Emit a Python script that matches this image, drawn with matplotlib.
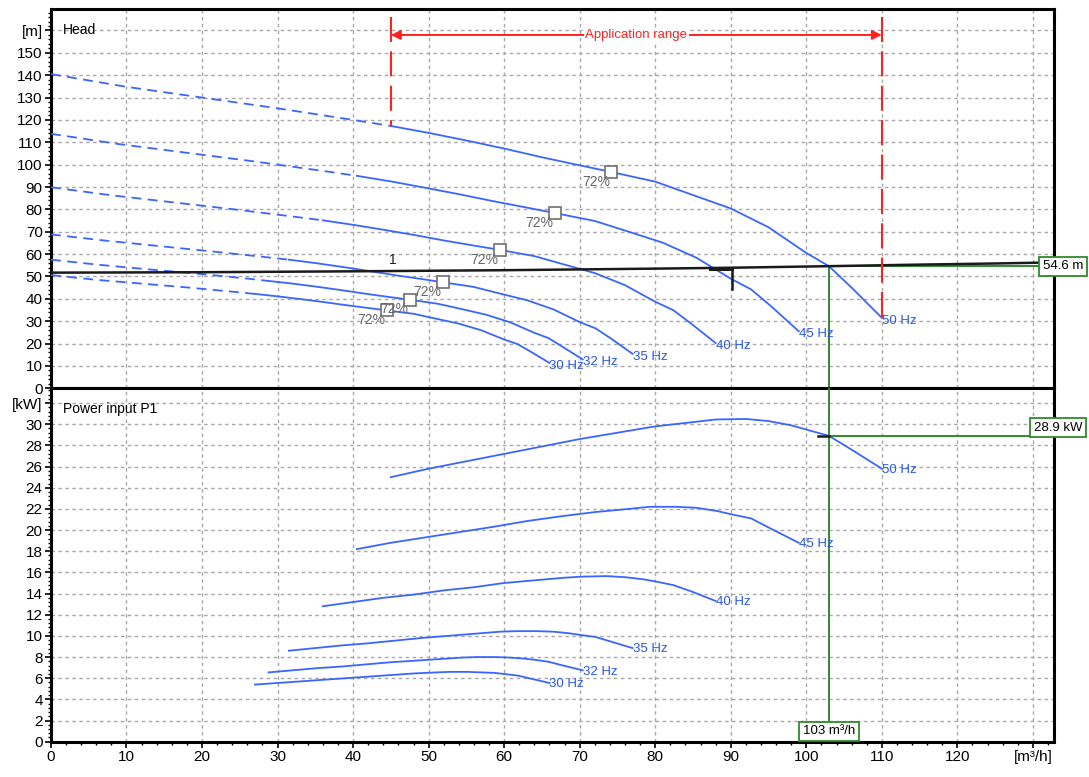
import matplotlib
matplotlib.use("Agg")
import matplotlib.pyplot as plt
from matplotlib.ticker import MultipleLocator, FixedLocator
import matplotlib.transforms as mtransforms

plt.rcParams['font.family'] = ['Liberation Sans', 'DejaVu Sans']

# ---------------- data ----------------
freq_labels = ["50 Hz", "45 Hz", "40 Hz", "35 Hz", "32 Hz", "30 Hz"]
app_start_q = [45.0, 40.5, 36.0, 31.5, 28.8, 27.0]

head_q_50 = [0, 10, 20, 30, 40, 45, 50, 55, 60, 65, 70, 74.2, 80, 85, 90, 95, 100, 103, 106, 110]
head_h_50 = [140.5, 134.8, 130.0, 125.2, 120.0, 117.3, 114.2, 110.8, 107.2, 103.3, 99.7, 96.7, 92.4, 86.4, 80.4, 72.0, 60.5, 54.6, 45.0, 31.5]
head_q_45 = [0, 9, 18, 27, 36, 40.5, 45, 49.5, 54, 58.5, 63, 66.8, 72, 76.5, 81, 85.5, 90, 92.7, 95.4, 99]
head_h_45 = [113.8, 109.2, 105.3, 101.4, 97.2, 95.0, 92.5, 89.7, 86.8, 83.7, 80.8, 78.3, 74.8, 70.0, 65.1, 58.3, 49.0, 44.2, 36.5, 25.5]
head_q_40 = [0, 8, 16, 24, 32, 36, 40, 44, 48, 52, 56, 59.4, 64, 68, 72, 76, 80, 82.4, 84.8, 88]
head_h_40 = [89.9, 86.3, 83.2, 80.1, 76.8, 75.1, 73.1, 70.9, 68.6, 66.1, 63.8, 61.9, 59.1, 55.3, 51.5, 46.1, 38.7, 34.9, 28.8, 20.2]
head_q_35 = [0, 7, 14, 21, 28, 31.5, 35, 38.5, 42, 45.5, 49, 51.9, 56, 59.5, 63, 66.5, 70, 72.1, 74.2, 77]
head_h_35 = [68.8, 66.1, 63.7, 61.3, 58.8, 57.5, 56.0, 54.3, 52.5, 50.6, 48.9, 47.4, 45.3, 42.3, 39.4, 35.3, 29.6, 26.8, 22.1, 15.4]
head_q_32 = [0, 6.4, 12.8, 19.2, 25.6, 28.8, 32, 35.2, 38.4, 41.6, 44.8, 47.5, 51.2, 54.4, 57.6, 60.8, 64, 65.9, 67.8, 70.4]
head_h_32 = [57.5, 55.2, 53.2, 51.3, 49.2, 48.0, 46.8, 45.4, 43.9, 42.3, 40.8, 39.6, 37.8, 35.4, 32.9, 29.5, 24.8, 22.4, 18.4, 12.9]
head_q_30 = [0, 6, 12, 18, 24, 27, 30, 33, 36, 39, 42, 44.5, 48, 51, 54, 57, 60, 61.8, 63.6, 66]
head_h_30 = [50.6, 48.5, 46.8, 45.1, 43.2, 42.2, 41.1, 39.9, 38.6, 37.2, 35.9, 34.8, 33.3, 31.1, 28.9, 25.9, 21.8, 19.7, 16.2, 11.3]

eff_label = "72%"
eff_q = [74.2, 66.7, 59.4, 51.9, 47.5, 44.5]
eff_h = [96.7, 78.5, 61.9, 47.3, 39.6, 34.9]

power_q_50 = [45, 50, 55, 60, 65, 70, 75, 80, 85, 88, 92, 95, 98, 100, 103, 106, 110]
power_p_50 = [25.0, 25.8, 26.5, 27.2, 27.9, 28.6, 29.2, 29.8, 30.2, 30.45, 30.5, 30.3, 29.9, 29.5, 28.9, 27.6, 25.8]
power_q_45 = [40.5, 45, 49.5, 54, 58.5, 63, 67.5, 72, 76.5, 79.2, 82.8, 85.5, 88.2, 90, 92.7, 95.4, 99]
power_p_45 = [18.2, 18.8, 19.3, 19.8, 20.3, 20.85, 21.3, 21.7, 22.0, 22.2, 22.2, 22.1, 21.8, 21.5, 21.1, 20.1, 18.8]
power_q_40 = [36, 40, 44, 48, 52, 56, 60, 64, 68, 70.4, 73.6, 76, 78.4, 80, 82.4, 84.8, 88]
power_p_40 = [12.8, 13.2, 13.6, 13.9, 14.3, 14.6, 15.0, 15.25, 15.5, 15.6, 15.65, 15.55, 15.35, 15.15, 14.8, 14.2, 13.3]
power_q_35 = [31.5, 35, 38.5, 42, 45.5, 49, 52.5, 56, 59.5, 61.6, 64.4, 66.5, 68.6, 70, 72.1, 74.2, 77]
power_p_35 = [8.6, 8.85, 9.1, 9.3, 9.55, 9.8, 10.0, 10.2, 10.4, 10.45, 10.45, 10.4, 10.25, 10.1, 9.9, 9.45, 8.85]
power_q_32 = [28.8, 32, 35.2, 38.4, 41.6, 44.8, 48, 51.2, 54.4, 56.3, 58.9, 60.8, 62.7, 64, 65.9, 67.8, 70.4]
power_p_32 = [6.55, 6.75, 6.95, 7.1, 7.3, 7.5, 7.65, 7.8, 7.95, 8.0, 8.0, 7.95, 7.85, 7.75, 7.55, 7.2, 6.75]
power_q_30 = [27, 30, 33, 36, 39, 42, 45, 48, 51, 52.8, 55.2, 57, 58.8, 60, 61.8, 63.6, 66]
power_p_30 = [5.4, 5.55, 5.7, 5.85, 6.0, 6.15, 6.3, 6.45, 6.55, 6.6, 6.6, 6.55, 6.5, 6.4, 6.25, 5.95, 5.55]

system_q = [0, 20, 40, 60, 80, 90, 103, 115, 125, 133]
system_h = [51.7, 51.9, 52.3, 52.8, 53.5, 53.9, 54.6, 55.3, 55.8, 56.3]
system_label = "1"

app_range = [45, 110]
app_label = "Application range"

duty_q = 103
duty_h = 54.6
duty_p = 28.9
duty_q_label = "103 m³/h"
duty_h_label = "54.6 m"
duty_p_label = "28.9 kW"

x_ticks = list(range(0, 140, 10))
x_ticklabels = [str(v) for v in range(0, 130, 10)] + ["[m³/h]"]
h_ticks = list(range(0, 170, 10))
h_ticklabels = [str(v) for v in range(0, 160, 10)] + ["[m]"]
p_ticks = list(range(0, 34, 2))
p_ticklabels = [str(v) for v in range(0, 32, 2)] + ["[kW]"]

head_curves = [(head_q_50, head_h_50), (head_q_45, head_h_45), (head_q_40, head_h_40),
               (head_q_35, head_h_35), (head_q_32, head_h_32), (head_q_30, head_h_30)]
power_curves = [(power_q_50, power_p_50), (power_q_45, power_p_45), (power_q_40, power_p_40),
                (power_q_35, power_p_35), (power_q_32, power_p_32), (power_q_30, power_p_30)]

# ---------------- styling ----------------
BLUE = '#3a66ff'
BLUE_TXT = '#2a55f0'
GREEN = '#2f8a2f'
RED = '#ff2020'
GRID = '#a8a8a8'
XMAX = 132.8

fig = plt.figure(figsize=(10.89, 7.77), dpi=100)
ax_h = fig.add_axes([0.0468, 0.5003, 0.9211, 0.4881])
ax_p = fig.add_axes([0.0468, 0.0454, 0.9211, 0.4549])

for ax in (ax_h, ax_p):
    ax.set_xlim(0, XMAX)
    for sp in ax.spines.values():
        sp.set_linewidth(2.2)
        sp.set_color('black')
    ax.xaxis.set_major_locator(FixedLocator(x_ticks))
    ax.xaxis.set_minor_locator(MultipleLocator(2))
    ax.grid(True, which='major', color=GRID, linestyle=(0, (2.5, 2.5)), linewidth=1.0)
    ax.set_axisbelow(True)
    ax.tick_params(axis='both', which='major', direction='out', length=4, width=1.2,
                   labelsize=11, pad=2)
    ax.tick_params(axis='both', which='minor', direction='out', length=2.5, width=1.0)

ax_h.set_ylim(0, 169.6)
ax_h.yaxis.set_major_locator(FixedLocator(h_ticks))
ax_h.set_yticklabels(h_ticklabels)
ax_h.yaxis.set_minor_locator(MultipleLocator(2))
ax_h.tick_params(axis='x', which='both', labelbottom=False, length=0)

ax_p.set_ylim(0, 33.4)
ax_p.yaxis.set_major_locator(FixedLocator(p_ticks))
ax_p.set_yticklabels(p_ticklabels)
ax_p.yaxis.set_minor_locator(MultipleLocator(0.4))
ax_p.set_xticklabels(x_ticklabels)

ax_h.text(0.012, 0.945, "Head", transform=ax_h.transAxes, fontsize=10, va='center', ha='left')
ax_p.text(0.012, 0.941, "Power input P1", transform=ax_p.transAxes, fontsize=10, va='center', ha='left')

# ---------------- head curves ----------------
for (q, h), qs, lab in zip(head_curves, app_start_q, freq_labels):
    dq = [a for a in q if a <= qs]
    dh = [b for a, b in zip(q, h) if a <= qs]
    sq = [a for a in q if a >= qs]
    sh = [b for a, b in zip(q, h) if a >= qs]
    ax_h.plot(dq, dh, color=BLUE, lw=1.3, linestyle=(0, (5.5, 3.5)), zorder=3)
    ax_h.plot(sq, sh, color=BLUE, lw=1.3, zorder=3)
    ax_h.annotate(lab, xy=(q[-1], h[-1]), xytext=(0, -2), textcoords='offset points',
                  ha='left', va='center', color=BLUE_TXT, fontsize=9.5, zorder=6)

# system curve
ax_h.plot(system_q, system_h, color='#1a1a1a', lw=1.8, zorder=4)
ax_h.annotate(system_label, xy=(45.2, 52.4), xytext=(0, 3), textcoords='offset points',
              ha='center', va='bottom', fontsize=10, color='#222222')
# end mark of system curve
ax_h.plot([87.3, 90.1], [53.3, 53.3], color='#1a1a1a', lw=2.2, zorder=4)
ax_h.plot([90.1, 90.1], [53.3, 44.3], color='#1a1a1a', lw=1.8, zorder=4)

# efficiency markers
ax_h.plot(eff_q, eff_h, linestyle='none', marker='s', markersize=8, markerfacecolor='white',
          markeredgecolor='#707070', markeredgewidth=1.2, zorder=5)
for q, h in zip(eff_q, eff_h):
    ax_h.annotate(eff_label, xy=(q, h), xytext=(-1, -2), textcoords='offset points',
                  ha='right', va='top', fontsize=10, color='#666666', zorder=5)

# application range
for xr, yb in zip(app_range, [head_h_50[5], head_h_50[-1]]):
    ax_h.plot([xr, xr], [166, yb], color=RED, lw=1.5, linestyle=(0, (12, 4.5)), zorder=4)
ax_h.annotate('', xy=(app_range[0], 158), xytext=(app_range[1], 158),
              arrowprops=dict(arrowstyle='<|-|>', color=RED, lw=1.4, shrinkA=0, shrinkB=0,
                              mutation_scale=14), zorder=5)
ax_h.text(sum(app_range) / 2, 158, app_label, ha='center', va='center', color=RED, fontsize=9.5,
          bbox=dict(facecolor='white', edgecolor='none', pad=1.0), zorder=6)

# duty point lines (head)
ax_h.plot([duty_q, duty_q], [0, duty_h], color=GREEN, lw=1.4, zorder=3.5)
ax_h.plot([duty_q, XMAX], [duty_h, duty_h], color=GREEN, lw=1.4, zorder=3.5)
trans_h = mtransforms.blended_transform_factory(ax_h.transAxes, ax_h.transData)
ax_h.text(1.009, duty_h, duty_h_label, transform=trans_h, ha='center', va='center', fontsize=9.5,
          bbox=dict(facecolor='white', edgecolor=GREEN, linewidth=1.3, pad=2.5), zorder=7,
          clip_on=False)

# ---------------- power curves ----------------
for (q, p), lab in zip(power_curves, freq_labels):
    ax_p.plot(q, p, color=BLUE, lw=1.3, zorder=3)
    ax_p.annotate(lab, xy=(q[-1], p[-1]), xytext=(0, -1), textcoords='offset points',
                  ha='left', va='center', color=BLUE_TXT, fontsize=9.5, zorder=6)

ax_p.plot([duty_q, duty_q], [0, 33.4], color=GREEN, lw=1.4, zorder=3.5)
ax_p.plot([duty_q, XMAX], [duty_p, duty_p], color=GREEN, lw=1.4, zorder=3.5)
ax_p.plot([101.6, duty_q], [duty_p, duty_p], color='#1a1a1a', lw=1.8, zorder=4)
trans_p = mtransforms.blended_transform_factory(ax_p.transAxes, ax_p.transData)
ax_p.text(1.004, duty_p + 0.2, duty_p_label, transform=trans_p, ha='center', va='bottom', fontsize=9.5,
          bbox=dict(facecolor='white', edgecolor=GREEN, linewidth=1.3, pad=2.5), zorder=7,
          clip_on=False)
trans_p2 = mtransforms.blended_transform_factory(ax_p.transData, ax_p.transAxes)
ax_p.text(duty_q, 0.012, duty_q_label, transform=trans_p2, ha='center', va='bottom', fontsize=9.5,
          bbox=dict(facecolor='white', edgecolor=GREEN, linewidth=1.3, pad=2.5), zorder=7)

fig.savefig("out.png", dpi=100)
